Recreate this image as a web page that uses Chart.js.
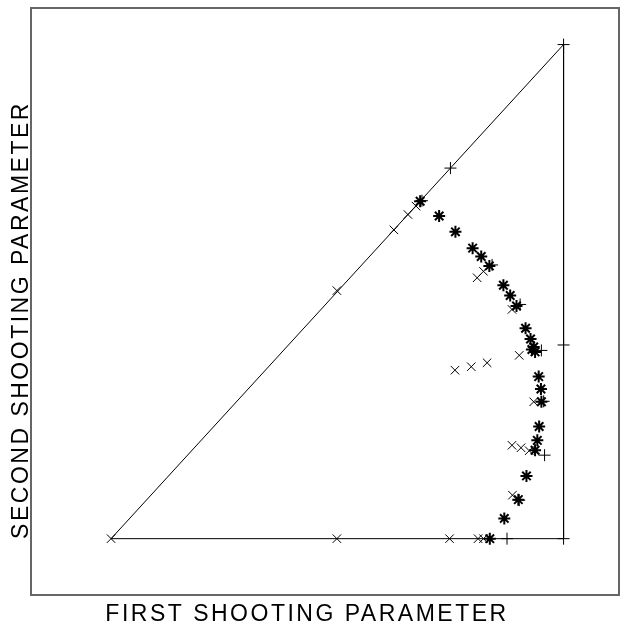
<!DOCTYPE html>
<html>
<head>
<meta charset="utf-8">
<script src="https://cdn.jsdelivr.net/npm/chart.js@4"></script>
<style>
  html, body { margin:0; padding:0; background:#fff; }
  #wrap { width:627px; height:624px; position:relative; }
</style>
</head>
<body>
<div id="wrap"><canvas id="c" width="627" height="624"></canvas></div>
<script>
// ── Data (x = first shooting parameter, y = second) ─────────────────────────
const triX = [0, 1, 1, 0];
const triY = [0, 1, 0, 0];

const plusX = [1, 1, 1, 0.750, 0.875, 0.951, 0.958, 0.687, 0.842, 0.904, 0.956, 0.902];
const plusY = [1, 0.392, 0, 0.750, 0, 0.381, 0.169, 0.684, 0.554, 0.474, 0.278, 0.078];

const crossX = [0, 0.499, 0.625, 0.656, 0.674, 0.499, 0.748, 0.811, 0.823, 0.823, 0.809,
                0.886, 0.902, 0.831, 0.796, 0.760, 0.934, 0.886, 0.906, 0.924, 0.887];
const crossY = [0, 0.502, 0.625, 0.656, 0.673, 0, 0, 0, 0, 0.541, 0.528,
                0.464, 0.371, 0.356, 0.348, 0.341, 0.277, 0.189, 0.184, 0.178, 0.088];

const starX = [0.683, 0.725, 0.761, 0.799, 0.818, 0.836, 0.867, 0.882, 0.896, 0.916, 0.927,
               0.930, 0.934, 0.937, 0.945, 0.950, 0.951, 0.946, 0.942, 0.937, 0.918, 0.900, 0.869, 0.837];
const starY = [0.683, 0.653, 0.621, 0.588, 0.571, 0.552, 0.513, 0.492, 0.471, 0.426, 0.404,
               0.383, 0.388, 0.378, 0.328, 0.303, 0.277, 0.227, 0.199, 0.179, 0.127, 0.079, 0.041, 0];

const xTitle = 'FIRST SHOOTING PARAMETER';
const yTitle = 'SECOND SHOOTING PARAMETER';

const pts = (xs, ys) => xs.map((x,i) => ({x, y:ys[i]}));

// ── Frame + axis titles ─────────────────────────────────────────────────────
const framePlugin = {
  id:'frame',
  afterDraw(chart) {
    const {ctx, chartArea:a} = chart;
    ctx.save();
    ctx.strokeStyle = '#666';
    ctx.lineWidth = 2;
    ctx.strokeRect(a.left, a.top, a.right - a.left, a.bottom - a.top);

    ctx.fillStyle = '#000';
    ctx.font = '23px "Liberation Sans", Arial, sans-serif';
    ctx.letterSpacing = '2.5px';
    ctx.textAlign = 'center';
    ctx.textBaseline = 'alphabetic';
    ctx.fillText(xTitle, 307, 621);

    ctx.translate(28, 320);
    ctx.rotate(-Math.PI/2);
    ctx.fillText(yTitle, 0, 0);
    ctx.restore();
  }
};

const mkSet = (data, style, radius, width) => ({
  data, showLine:false, pointStyle:style, pointRadius:radius, pointHoverRadius:radius,
  borderColor:'#000', backgroundColor:'#000', pointBorderWidth:width
});

new Chart(document.getElementById('c').getContext('2d'), {
  type:'scatter',
  data:{ datasets:[
    { data:pts(triX, triY), showLine:true, borderColor:'#000', borderWidth:1,
      pointRadius:0, pointHoverRadius:0, tension:0 },
    mkSet(pts(plusX, plusY), 'cross', 6, 1),
    mkSet(pts(crossX, crossY), 'crossRot', 6, 1),
    mkSet(pts(starX, starY), 'star', 6, 2),
  ]},
  options:{
    responsive:false, animation:false, events:[],
    layout:{ padding:{ left:31, top:1, right:2, bottom:29 } },
    plugins:{ legend:{display:false}, tooltip:{enabled:false} },
    scales:{
      x:{ type:'linear', display:false, min:-0.177, max:1.1225 },
      y:{ type:'linear', display:false, min:-0.114, max:1.074 }
    }
  },
  plugins:[framePlugin]
});
</script>
</body>
</html>
